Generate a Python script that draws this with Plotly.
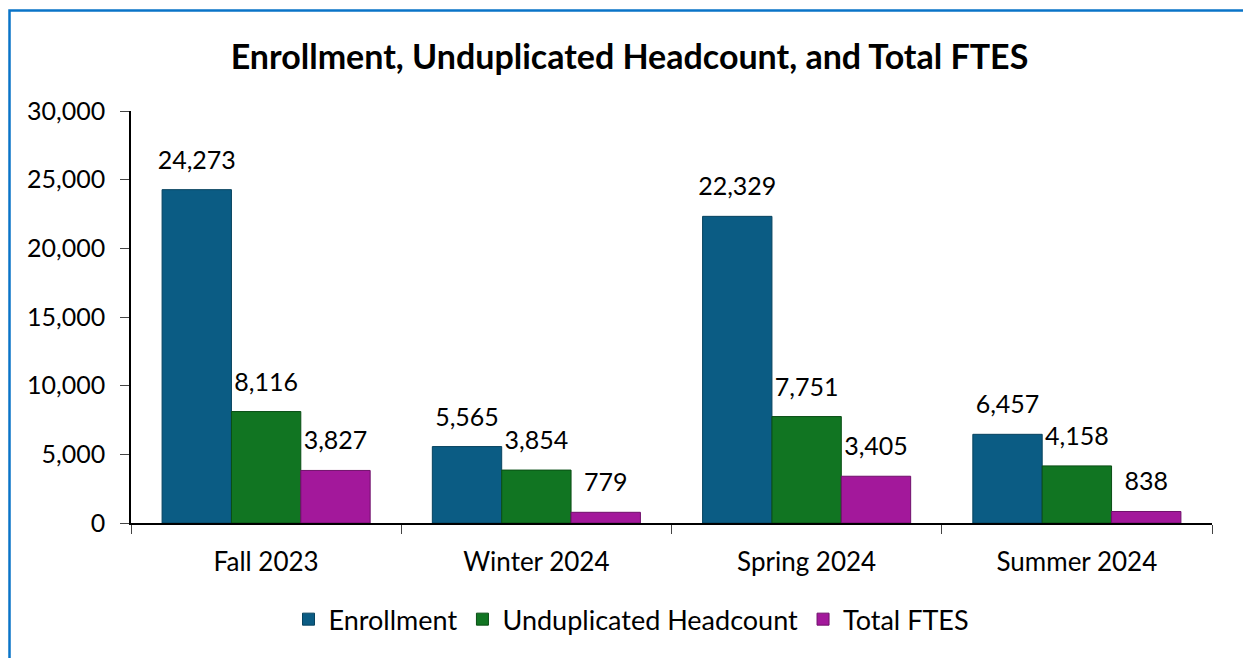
import plotly.graph_objects as go

# Chart data
terms = ["Fall 2023", "Winter 2024", "Spring 2024", "Summer 2024"]
enrollment = [24273, 5565, 22329, 6457]
headcount = [8116, 3854, 7751, 4158]
ftes = [3827, 779, 3405, 838]

series_names = ["Enrollment", "Unduplicated Headcount", "Total FTES"]
series_colors = ["#0B5C84", "#117522", "#A3189B"]
edge_colors = ["#07435F", "#0A4E15", "#70106B"]

# page has an 8px body margin, so the figure is a bit smaller than the window
W, H = 1243, 650
L, R, T, B = 123, 39, 103, 135

fig = go.Figure()
for i, (name, vals, col, edge) in enumerate(zip(series_names, [enrollment, headcount, ftes],
                                                series_colors, edge_colors)):
    fig.add_trace(go.Bar(
        x=terms,
        y=vals,
        name=name,
        offsetgroup=str(i),
        marker=dict(color=col, line=dict(color=edge, width=1)),
        hovertemplate="%{x}<br>" + name + ": %{y:,}<extra></extra>",
    ))

# value labels: invisible grouped markers so the text sits a little above each bar
for i, vals in enumerate([enrollment, headcount, ftes]):
    fig.add_trace(go.Scatter(
        x=terms,
        y=vals,
        mode="markers+text",
        offsetgroup=str(i),
        marker=dict(size=22, opacity=0),
        text=[f"{v:,}" for v in vals],
        textposition="top center",
        textfont=dict(size=25, color="black"),
        cliponaxis=False,
        showlegend=False,
        hoverinfo="skip",
    ))

# blue frame around the chart (runs off the right/bottom edge)
pw, ph = W - L - R, H - T - B
fig.add_shape(type="rect", xref="paper", yref="paper",
              x0=(1.5 - L) / pw, x1=(W + 20 - L) / pw,
              y0=-(B + 20) / ph, y1=1 + (T - 2.5) / ph,
              line=dict(color="#0A74C8", width=2.5), fillcolor="rgba(0,0,0,0)",
              layer="below")

fig.update_layout(
    width=W,
    height=H,
    margin=dict(l=L, r=R, t=T, b=B),
    paper_bgcolor="white",
    plot_bgcolor="white",
    font=dict(family="Lato, Carlito, sans-serif", color="black"),
    title=dict(text="<b>Enrollment, Unduplicated Headcount, and Total FTES</b>",
               x=0.5, xanchor="center", y=0.925, yanchor="middle",
               font=dict(size=34, color="black")),
    barmode="group",
    bargap=0.23,
    bargroupgap=0,
    scattermode="group",
    scattergap=0.23,
    showlegend=True,
    legend=dict(orientation="h", x=0.463, xanchor="center", y=-0.175, yanchor="top",
                font=dict(size=27), traceorder="normal"),
    xaxis=dict(showline=True, linecolor="black", linewidth=1.5,
               ticks="outside", ticklen=9, tickson="boundaries",
               ticklabelstandoff=15,
               tickfont=dict(size=26), showgrid=False),
    yaxis=dict(range=[0, 30000], dtick=5000, tickformat=",",
               showline=True, linecolor="black", linewidth=1.5,
               ticks="outside", ticklen=9, ticklabelstandoff=10,
               tickfont=dict(size=25),
               showgrid=False, zeroline=False),
)

fig.write_html("out.html")
